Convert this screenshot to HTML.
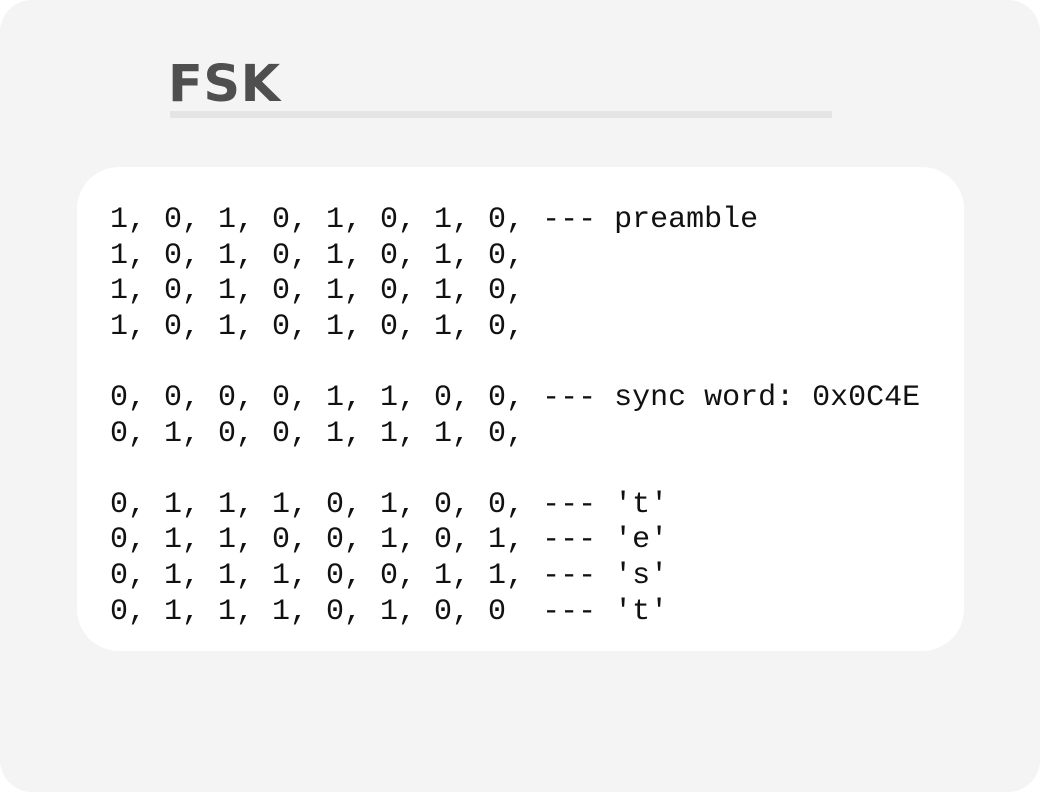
<!DOCTYPE html>
<html><head><meta charset="utf-8"><style>
html,body{margin:0;padding:0;background:#fff;}
#wrap{position:absolute;left:0;top:0;width:1040px;height:792px;background:#f4f4f4;border-radius:32px;overflow:hidden;}
#title{position:absolute;left:168px;top:53px;font:bold 51px "DejaVu Sans",sans-serif;color:#4f4f4f;line-height:64px;letter-spacing:0.5px;}
#bar{position:absolute;left:170px;top:111px;width:662px;height:7px;background:#e4e4e4;}
#card{position:absolute;left:77px;top:167px;width:887px;height:484px;background:#fff;border-radius:42px;}
pre{position:absolute;left:110px;top:203px;margin:0;font:30px "Liberation Mono",monospace;line-height:35.6px;color:#111;}
</style></head><body><div id="wrap">
<div id="title">FSK</div><div id="bar"></div>
<div id="card"></div>
<pre>1, 0, 1, 0, 1, 0, 1, 0, --- preamble
1, 0, 1, 0, 1, 0, 1, 0,
1, 0, 1, 0, 1, 0, 1, 0,
1, 0, 1, 0, 1, 0, 1, 0,

0, 0, 0, 0, 1, 1, 0, 0, --- sync word: 0x0C4E
0, 1, 0, 0, 1, 1, 1, 0,

0, 1, 1, 1, 0, 1, 0, 0, --- 't'
0, 1, 1, 0, 0, 1, 0, 1, --- 'e'
0, 1, 1, 1, 0, 0, 1, 1, --- 's'
0, 1, 1, 1, 0, 1, 0, 0  --- 't'</pre>
</div></body></html>
